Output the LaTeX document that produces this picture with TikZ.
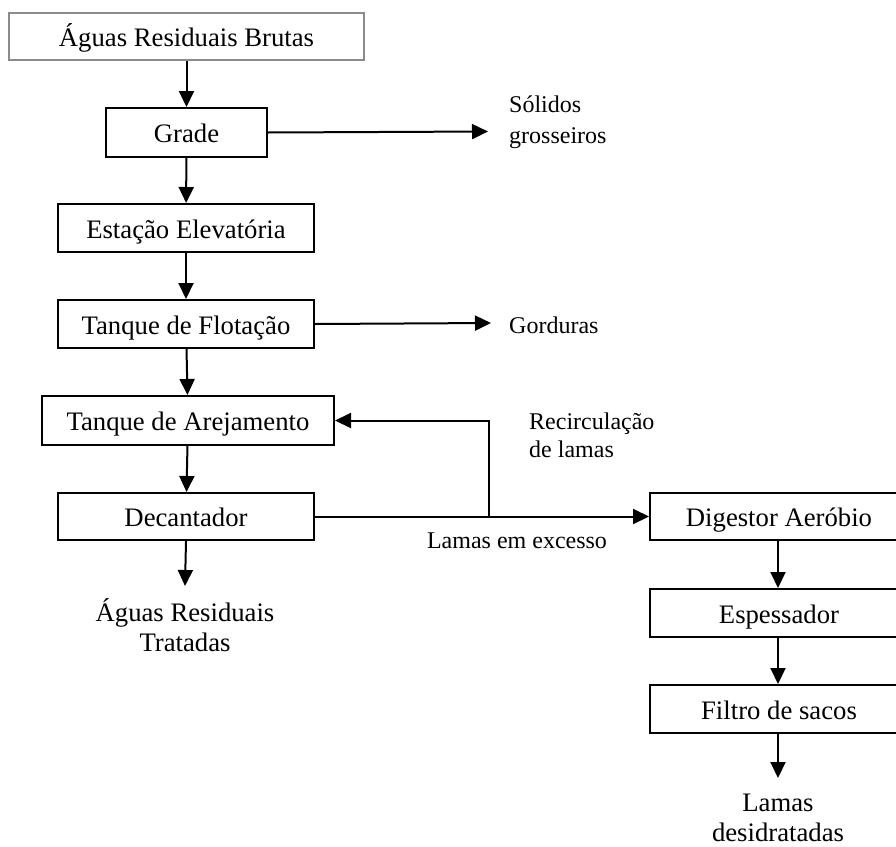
\documentclass[tikz,border=0pt]{standalone}
\usepackage{fontspec}
\setmainfont{Liberation Serif}
\usetikzlibrary{arrows.meta}
\begin{document}
\begin{tikzpicture}[x=1pt,y=-1pt,
  box/.style={draw=black,line width=2pt,inner sep=0pt,anchor=north west,
    text height=20pt,text depth=0pt,font=\fontsize{26.7}{30}\selectfont},
  srcbox/.style={box,draw=black!45},
  flow/.style={line width=2pt,-{Triangle[length=16pt,width=15pt]}},
  side/.style={inner sep=0pt,align=left,anchor=west,font=\fontsize{24}{29}\selectfont},
  outlbl/.style={inner sep=0pt,align=center,font=\fontsize{26.7}{29.5}\selectfont}]
\clip (0,0) rectangle (896,846);
\fill[white] (0,0) rectangle (896,846);

% main treatment line
\node[srcbox,minimum width=355pt,minimum height=47pt] (src) at (8,12) {Águas Residuais Brutas};
\node[box,minimum width=161pt,minimum height=49pt] (grade) at (105,107) {Grade};
\node[box,minimum width=256pt,minimum height=48pt] (elev) at (57,203) {Estação Elevatória};
\node[box,minimum width=256pt,minimum height=48pt] (flot) at (57,299) {Tanque de Flotação};
\node[box,minimum width=292pt,minimum height=49pt] (arej) at (41,395) {Tanque de Arejamento};
\node[box,minimum width=256pt,minimum height=47pt] (dec) at (57,492) {Decantador};

% sludge line
\node[box,minimum width=258pt,minimum height=47pt] (dig) at (649,492) {Digestor Aeróbio};
\node[box,minimum width=258pt,minimum height=48pt] (esp) at (649,588) {Espessador};
\node[box,minimum width=258pt,minimum height=48pt] (filt) at (649,684) {Filtro de sacos};

% labels
\node[side,font=\fontsize{24}{31}\selectfont] (solidos) at (509,122) {Sólidos\\grosseiros};
\node[side] (gord) at (509,325) {Gorduras};
\node[side,font=\fontsize{24}{28}\selectfont] (recirc) at (529,435) {Recirculação\\de lamas};
\node[side,anchor=center] (excesso) at (517,541) {Lamas em excesso};
\node[outlbl] (tratadas) at (185,625) {Águas Residuais\\Tratadas};
\node[outlbl] (desid) at (778,818) {Lamas\\desidratadas};

\coordinate (outA) at (185,586);
\coordinate (outB) at (778,778);
\coordinate (solEnd) at (488,131.5);
\coordinate (gordEnd) at (491,323);
\coordinate (junc) at (489,515.5);

% connectors
\draw[flow] (src) -- (grade);
\draw[flow] (grade) -- (elev);
\draw[flow] (elev) -- (flot);
\draw[flow] (flot) -- (arej);
\draw[flow] (arej) -- (dec);
\draw[flow] (dec.south) -- (outA);
\draw[flow] (grade.east) -- (solEnd);
\draw[flow] (flot.east) -- (gordEnd);
\draw[flow] (dec.east) -- (dig.west);
\draw[flow] (junc) |- (arej.east);
\draw[flow] (dig.south -| outB) -- (esp.north -| outB);
\draw[flow] (esp.south -| outB) -- (filt.north -| outB);
\draw[flow] (filt.south -| outB) -- (outB);
\end{tikzpicture}
\end{document}
